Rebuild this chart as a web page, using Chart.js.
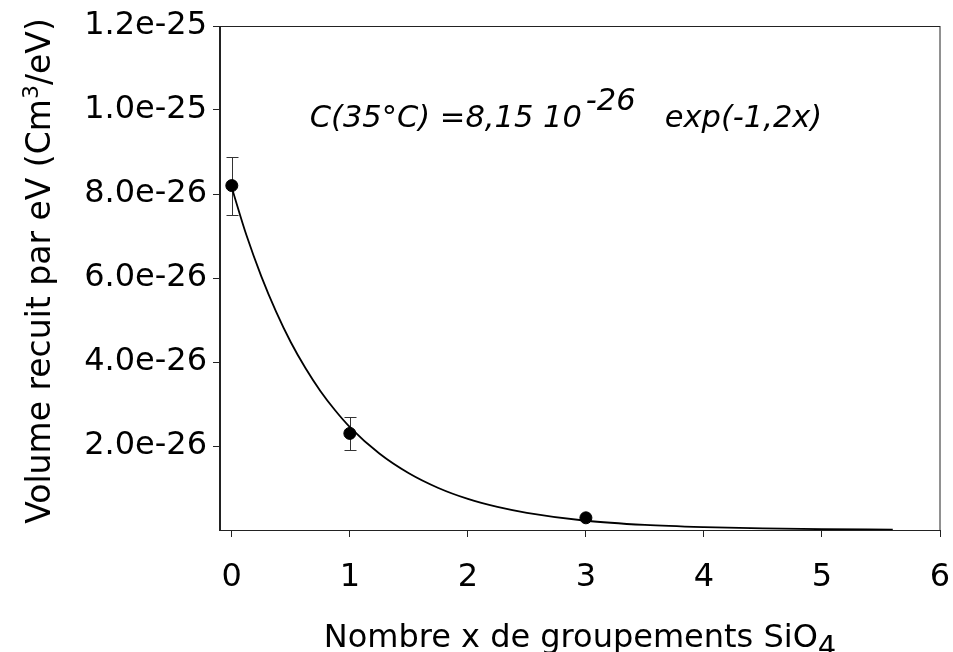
<!DOCTYPE html>
<html>
<head>
<meta charset="utf-8">
<script src="https://cdn.jsdelivr.net/npm/chart.js@4.4.1/dist/chart.umd.min.js"></script>
<style>
  html, body { margin: 0; padding: 0; background: #fff; }
  #wrap { position: relative; width: 953px; height: 652px; }
</style>
</head>
<body>
<div id="wrap"><canvas id="chart"></canvas></div>
<script>
// measured points: x = number of SiO4 groups
const pointX = [0, 1, 3];
const pointY = [8.2e-26, 2.3e-26, 0.29e-26];
const pointErr = [0.69e-26, 0.4e-26, 0];

// fitted curve, values
const curveX = [0, 0.125, 0.25, 0.375, 0.5, 0.625, 0.75, 0.875, 1, 1.25, 1.5, 1.75, 2, 2.25, 2.5, 3, 3.5, 4, 4.5, 5, 5.6];
const curveY = [8.15e-26, 7.01e-26, 6.04e-26, 5.20e-26, 4.47e-26, 3.85e-26, 3.31e-26, 2.85e-26, 2.45e-26,
                1.82e-26, 1.35e-26, 1.00e-26, 0.74e-26, 0.55e-26, 0.41e-26, 0.22e-26, 0.12e-26,
                0.067e-26, 0.037e-26, 0.020e-26, 0.0099e-26];

const xTicks = [0, 1, 2, 3, 4, 5, 6];
const yTicks = [2e-26, 4e-26, 6e-26, 8e-26, 1e-25, 1.2e-25];

const FONT = '"DejaVu Sans", "Liberation Sans", sans-serif';

// draw a run of text pieces (for sub/superscripts), centred or left aligned
function drawParts(ctx, parts, x, y, align) {
    let width = 0;
    parts.forEach(p => {
        ctx.font = p.font;
        width += ctx.measureText(p.text).width + (p.dx || 0);
    });
    let cx = align === 'center' ? x - width / 2 : x;
    parts.forEach(p => {
        ctx.font = p.font;
        cx += p.dx || 0;
        ctx.fillText(p.text, cx, y + (p.dy || 0));
        cx += ctx.measureText(p.text).width;
    });
}

const errorBars = {
    id: 'errorBars',
    beforeDatasetsDraw(chart) {
        const {ctx, scales: {x, y}} = chart;
        ctx.save();
        ctx.strokeStyle = '#333';
        ctx.lineWidth = 1;
        pointX.forEach((v, i) => {
            if (!pointErr[i]) return;
            const px = Math.round(x.getPixelForValue(v)) + 0.5;
            const top = Math.round(y.getPixelForValue(pointY[i] + pointErr[i])) + 0.5;
            const bot = Math.round(y.getPixelForValue(pointY[i] - pointErr[i])) + 0.5;
            ctx.beginPath();
            ctx.moveTo(px, top); ctx.lineTo(px, bot);
            ctx.moveTo(px - 6, top); ctx.lineTo(px + 6, top);
            ctx.moveTo(px - 6, bot); ctx.lineTo(px + 6, bot);
            ctx.stroke();
        });
        ctx.restore();
    }
};

const frameAndText = {
    id: 'frameAndText',
    afterDraw(chart) {
        const {ctx, chartArea: a, scales: {x, y}} = chart;
        ctx.save();
        // box round the plot
        ctx.strokeStyle = '#222';
        ctx.lineWidth = 1;
        ctx.strokeRect(a.left - 0.5, a.top + 0.5, a.right - a.left + 0.5, a.bottom - a.top);

        ctx.fillStyle = '#000';
        ctx.textBaseline = 'alphabetic';

        // x title
        drawParts(ctx, [
            {text: 'Nombre x de groupements SiO', font: '32px ' + FONT},
            {text: '4', font: '29px ' + FONT, dy: 9}
        ], (a.left + a.right) / 2, 647, 'center');

        // y title, rotated
        ctx.save();
        ctx.translate(50, 271);
        ctx.rotate(-Math.PI / 2);
        drawParts(ctx, [
            {text: 'Volume recuit par eV (Cm', font: '33px ' + FONT},
            {text: '3', font: '22px ' + FONT, dy: -12},
            {text: '/eV)', font: '33px ' + FONT}
        ], 0, 0, 'center');
        ctx.restore();

        // fit equation
        const it = 'italic 30.5px ' + FONT;
        drawParts(ctx, [
            {text: 'C(35°C) =8,15 10', font: it},
            {text: '-26', font: it, dy: -17, dx: 4},
            {text: '   exp(-1,2x)', font: it}
        ], x.getPixelForValue(0.66), y.getPixelForValue(9.6e-26), 'left');
        ctx.restore();
    }
};

const ctx = document.getElementById('chart').getContext('2d');
new Chart(ctx, {
    type: 'scatter',
    data: {
        datasets: [
            {
                data: curveX.map((v, i) => ({x: v, y: curveY[i]})),
                showLine: true,
                borderColor: '#000',
                borderWidth: 1.8,
                pointRadius: 0,
                cubicInterpolationMode: 'monotone'
            },
            {
                data: pointX.map((v, i) => ({x: v, y: pointY[i]})),
                showLine: false,
                pointRadius: 6,
                pointBackgroundColor: '#000',
                pointBorderColor: '#000',
                pointBorderWidth: 1
            }
        ]
    },
    options: {
        responsive: true,
        maintainAspectRatio: false,
        animation: false,
        layout: {
            padding: {top: 26, right: 13, left: 0, bottom: 0}
        },
        plugins: {
            legend: {display: false},
            tooltip: {enabled: false}
        },
        scales: {
            x: {
                type: 'linear',
                min: -0.1,
                max: 6,
                afterBuildTicks: s => { s.ticks = xTicks.map(v => ({value: v})); },
                afterFit: s => {
                    s.height = 122;
                    s.paddingLeft = 0;
                    s.paddingRight = 0;
                },
                grid: {
                    drawOnChartArea: false,
                    drawTicks: true,
                    tickLength: 7,
                    tickColor: '#222'
                },
                border: {display: true, color: '#222', width: 1},
                ticks: {
                    padding: 21,
                    color: '#000',
                    font: {family: FONT, size: 32},
                    maxRotation: 0
                }
            },
            y: {
                type: 'linear',
                min: 0,
                max: 1.2e-25,
                afterBuildTicks: s => { s.ticks = yTicks.map(v => ({value: v})); },
                afterFit: s => {
                    s.width = 220;
                    s.paddingTop = 0;
                    s.paddingBottom = 0;
                },
                grid: {
                    drawOnChartArea: false,
                    drawTicks: true,
                    tickLength: 7,
                    tickColor: '#222'
                },
                border: {display: true, color: '#222', width: 1},
                ticks: {
                    padding: 6,
                    color: '#000',
                    font: {family: FONT, size: 32},
                    callback: v => v.toExponential(1)
                }
            }
        }
    },
    plugins: [errorBars, frameAndText]
});
</script>
</body>
</html>
